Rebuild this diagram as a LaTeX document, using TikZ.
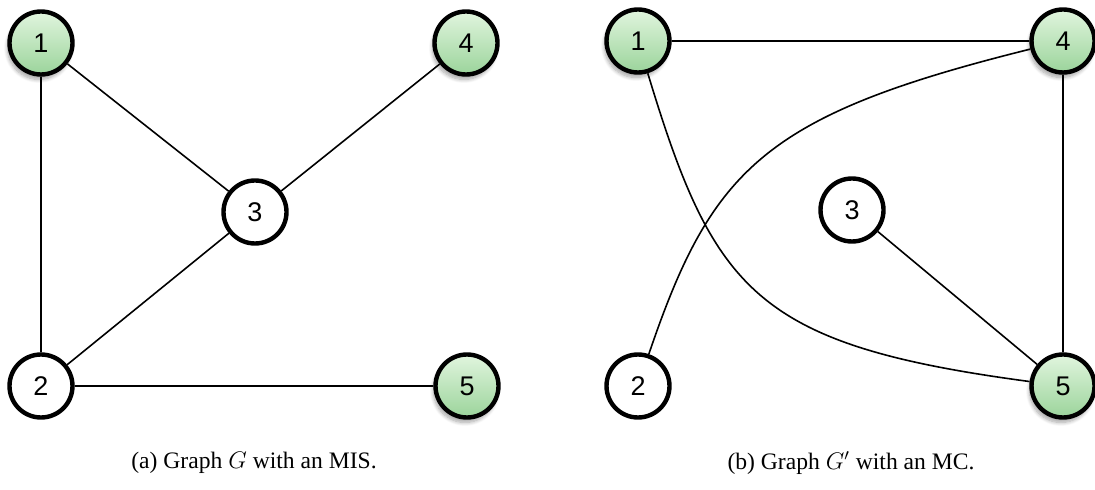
\documentclass[tikz,border=0pt]{standalone}
\usepackage{fontspec}
\setmainfont{Liberation Serif}
\setsansfont{Liberation Sans}
\usetikzlibrary{positioning,shadows.blur}
\definecolor{vtop}{RGB}{225,245,222}
\definecolor{vbot}{RGB}{155,212,155}
\begin{document}
\begin{tikzpicture}[x=0.5pt,y=-0.5pt,
  vertex/.style={draw,circle,line width=2.2pt,minimum size=31.5pt,inner sep=0pt,fill=white,font=\sffamily\fontsize{13.5}{13.5}\selectfont},
  chosen/.style={vertex,top color=vtop,bottom color=vbot,blur shadow={shadow xshift=-1pt,shadow yshift=-2.5pt,shadow blur steps=8,shadow opacity=35}},
  edge/.style={line width=0.8pt},
  caption/.style={font=\fontsize{11.8}{14}\selectfont}]
\useasboundingbox (0,0) rectangle (1095,490);
% (a) graph G
\node[chosen] (a1) at (41,43) {1};
\node[chosen] (a4) at (466,43) {4};
\node[vertex] (a3) at (255,212) {3};
\node[vertex] (a2) at (41,386) {2};
\node[chosen] (a5) at (467,386) {5};
\draw[edge] (a1)--(a3) (a1)--(a2) (a4)--(a3) (a3)--(a2) (a2)--(a5);
\node[caption] (capa) at (254,463) {(a) Graph $G$ with an MIS.};
% (b) graph G'
\node[chosen] (b1) at (638,41) {1};
\node[chosen] (b4) at (1063,41) {4};
\node[vertex] (b3) at (852,210) {3};
\node[vertex] (b2) at (638,386) {2};
\node[chosen] (b5) at (1063,386) {5};
\draw[edge] (b1)--(b4) (b4)--(b5) (b3)--(b5);
\draw[edge] (b1) .. controls (714,292) and (756,345) .. (b5);
\draw[edge] (b2) .. controls (712,168) and (765,115) .. (b4);
\node[caption] (capb) at (851,463) {(b) Graph $G'$ with an MC.};
\end{tikzpicture}
\end{document}
